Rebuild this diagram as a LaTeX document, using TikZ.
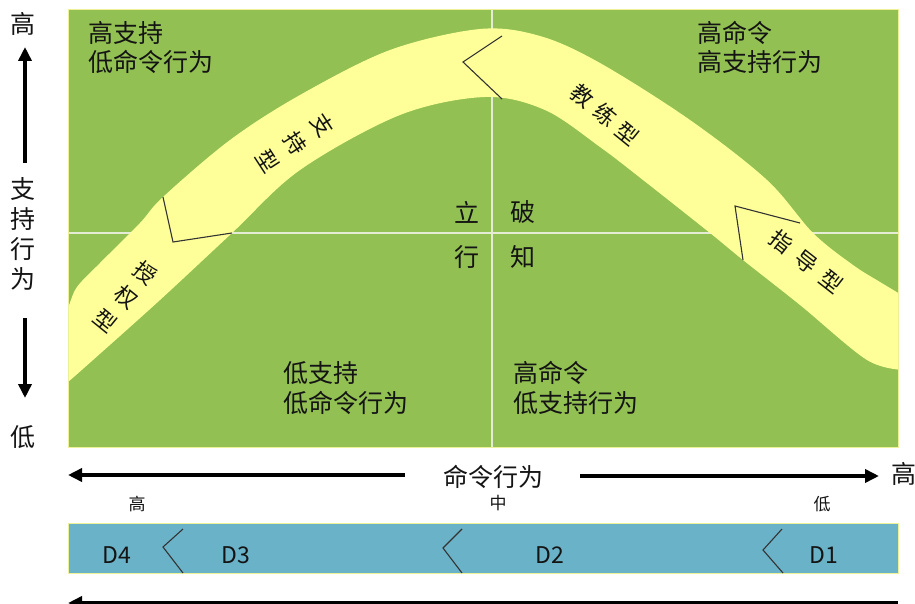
\documentclass[tikz,border=0pt]{standalone}
\usepackage{fontspec}
\setmainfont{Noto Sans CJK SC}
\usetikzlibrary{arrows.meta}
\definecolor{grn}{RGB}{146,192,82}
\definecolor{bandc}{RGB}{255,255,153}
\definecolor{blu}{RGB}{106,178,200}
\definecolor{gridc}{RGB}{228,236,214}
\definecolor{edgec}{RGB}{236,240,150}
\definecolor{txt}{RGB}{20,20,20}
\tikzset{
  big/.style={font=\fontsize{25}{30}\selectfont, text=txt, inner sep=0pt},
  bandtxt/.style={font=\fontsize{22}{26}\selectfont, text=txt, inner sep=0pt},
  small/.style={font=\fontsize{17}{20}\selectfont, text=txt, inner sep=0pt},
  dlbl/.style={font=\fontsize{23}{26}\selectfont, text=txt, inner sep=0pt},
  arr/.style={line width=3.6pt, -{Triangle[length=14pt,width=13pt]}},
  chev/.style={draw=black!80, line width=1.1pt},
  gridl/.style={draw=gridc, line width=1.8pt}
}
\begin{document}
\begin{tikzpicture}[x=1pt,y=-1pt]
\useasboundingbox (0,0) rectangle (915,604);
% green field
\fill[grn] (68,9) rectangle (898,447);
% grid lines
\draw[gridl] (492,9) -- (492,447);
\draw[gridl] (68,233) -- (898,233);
% band
\begin{scope}
\clip (68,9) rectangle (898,447);
\fill[bandc] plot[smooth,tension=0.55] coordinates {(60,325) (68,308) (77,287) (100,263) (140,223) (163,197) (230,140) (300,95) (390,50) (480,29) (540,36) (600,63) (690,120) (767,180) (813,233) (853,265) (880,282) (905,297)}
 -- plot[smooth,tension=0.55] coordinates {(905,370) (867,360) (800,305) (743,260) (710,233) (643,180) (600,147) (545,110) (485,97) (400,115) (300,170) (232,233) (160,300) (93,360) (68,382) (60,388)} -- cycle;
\end{scope}
\draw[edgec, line width=0.8pt] (68,9) rectangle (898,447);
% chevrons in band
\draw[chev] (163,197) -- (173,242) -- (232,233);
\draw[chev] (502,36) -- (463,62) -- (502,99);
\draw[chev] (800,223) -- (735,206) -- (743,260);
% band labels
\node[bandtxt, rotate=-57] (s1) at (322,125) {支};
\node[bandtxt, rotate=-57] (s2) at (295,143) {持};
\node[bandtxt, rotate=-57] (s3) at (268,161) {型};
\node[bandtxt, rotate=-39] (a1) at (145,273) {授};
\node[bandtxt, rotate=-39] (a2) at (126,297) {权};
\node[bandtxt, rotate=-39] (a3) at (106,321) {型};
\node[bandtxt, rotate=-39] (j1) at (582,96) {教};
\node[bandtxt, rotate=-39] (j2) at (605,115) {练};
\node[bandtxt, rotate=-39] (j3) at (628,134) {型};
\node[bandtxt, rotate=-38] (z1) at (781,242) {指};
\node[bandtxt, rotate=-38] (z2) at (806,262) {导};
\node[bandtxt, rotate=-38] (z3) at (831,281) {型};
% quadrant labels
\node[big, anchor=west] (tl1) at (88,33) {高支持};
\node[big, anchor=west] (tl2) at (88,62) {低命令行为};
\node[big, anchor=west] (tr1) at (697,33) {高命令};
\node[big, anchor=west] (tr2) at (697,62) {高支持行为};
\node[big, anchor=west] (bl1) at (283,373) {低支持};
\node[big, anchor=west] (bl2) at (283,403) {低命令行为};
\node[big, anchor=west] (br1) at (513,373) {高命令};
\node[big, anchor=west] (br2) at (513,403) {低支持行为};
% center labels
\node[big] (c1) at (467,212) {立};
\node[big] (c2) at (523,212) {破};
\node[big] (c3) at (467,257) {行};
\node[big] (c4) at (523,257) {知};
% left axis
\node[big] (yh) at (23,24) {高};
\node[big] (y1) at (23,189) {支};
\node[big] (y2) at (23,219) {持};
\node[big] (y3) at (23,249) {行};
\node[big] (y4) at (23,279) {为};
\node[big] (yl) at (23,437) {低};
\coordinate (ua) at (25,163);
\coordinate (ub) at (25,47);
\coordinate (da) at (25,318);
\coordinate (db) at (25,398);
\draw[arr] (ua) -- (ub);
\draw[arr] (da) -- (db);
% horizontal axis
\node[big] (xlab) at (493,477) {命令行为};
\node[big] (xh) at (904,474) {高};
\coordinate (la) at (405,475);
\coordinate (lb) at (68,475);
\coordinate (ra) at (580,476);
\coordinate (rb) at (879,476);
\draw[arr] (la) -- (lb);
\draw[arr] (ra) -- (rb);
\node[small] (h1) at (137,504) {高};
\node[small] (h2) at (498,503) {中};
\node[small] (h3) at (822,504) {低};
% blue bar
\draw[fill=blu, draw=edgec, line width=0.8pt] (68,523) rectangle (898,573);
\draw[chev] (183,529) -- (163,547) -- (183,573);
\draw[chev] (462,529) -- (443,548) -- (462,573);
\draw[chev] (782,529) -- (763,550) -- (783,573);
\node[dlbl] (d4) at (117,555) {D4};
\node[dlbl] (d3) at (236,555) {D3};
\node[dlbl] (d2) at (550,555) {D2};
\node[dlbl] (d1) at (824,555) {D1};
% bottom arrow (cut off)
\coordinate (ba) at (898,603);
\coordinate (bb) at (68,603);
\draw[line width=4pt, -{Triangle[length=14pt,width=13pt]}] (ba) -- (bb);
\end{tikzpicture}
\end{document}
